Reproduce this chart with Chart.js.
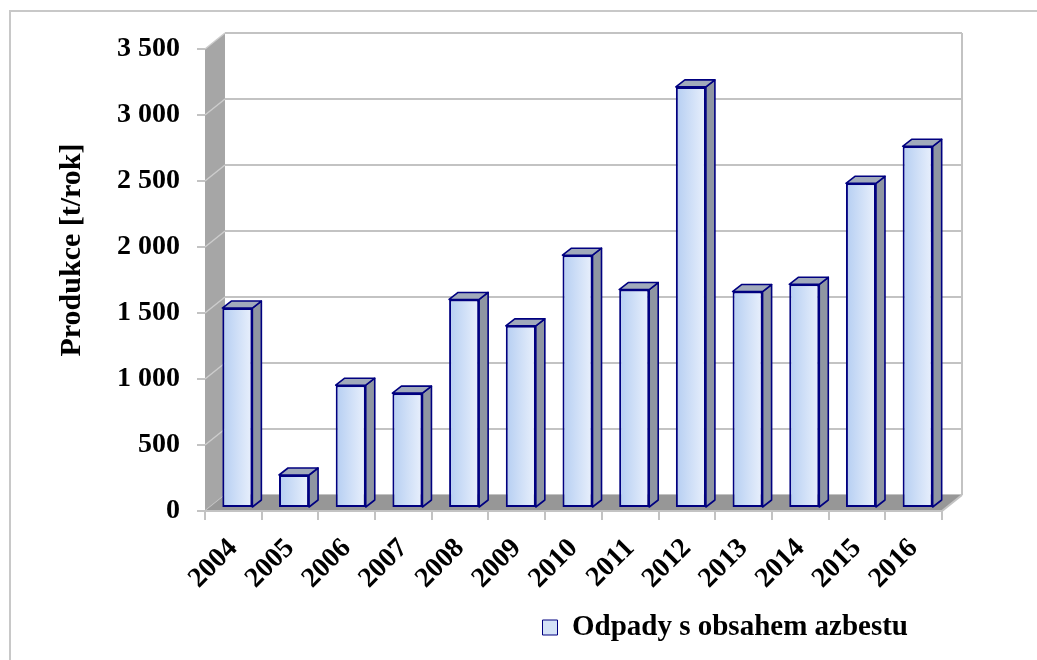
<!DOCTYPE html>
<html>
<head>
<meta charset="utf-8">
<script src="https://cdn.jsdelivr.net/npm/chart.js@4.4.1/dist/chart.umd.min.js"></script>
<style>
  html, body { margin: 0; padding: 0; background: #fff; }
  #wrap { width: 1037px; height: 660px; }
</style>
</head>
<body>
<div id="wrap"><canvas id="chart" width="1037" height="660"></canvas></div>
<script>
// data
const years = ['2004', '2005', '2006', '2007', '2008', '2009', '2010', '2011', '2012', '2013', '2014', '2015', '2016'];
const production = [1515, 250, 930, 870, 1580, 1380, 1915, 1655, 3190, 1640, 1695, 2460, 2740];
const yTicks = [0, 500, 1000, 1500, 2000, 2500, 3000, 3500];
const seriesName = 'Odpady s obsahem azbestu';
const axisTitle = 'Produkce [t/rok]';

const FONT = "'Liberation Serif', 'Times New Roman', serif";
const NAVY = '#000080';
const WALL = { dx: 20, dy: -16 };      // depth of the 3D box
const BAR_SHIFT = { dx: 4, dy: -3 };   // bars sit a little behind the front plane
const BAR_DEPTH = { dx: 9, dy: -7 };
const BAR_FRACTION = 0.53;
const LEGEND_NUDGE = { dx: -16, dy: -8 };

function fmtThousands(v) {
  if (v < 1000) return String(v);
  const rest = String(v % 1000).padStart(3, '0');
  return Math.floor(v / 1000) + ' ' + rest;
}

function poly(ctx, pts, fill, stroke, lw) {
  ctx.beginPath();
  ctx.moveTo(pts[0][0], pts[0][1]);
  for (let i = 1; i < pts.length; i++) ctx.lineTo(pts[i][0], pts[i][1]);
  ctx.closePath();
  if (fill) { ctx.fillStyle = fill; ctx.fill(); }
  if (stroke) { ctx.strokeStyle = stroke; ctx.lineWidth = lw; ctx.lineJoin = 'round'; ctx.stroke(); }
}

const box3d = {
  id: 'box3d',
  afterLayout(chart) {
    // legend sits a bit left and up from where the layout puts it
    const lg = chart.legend;
    if (!lg) return;
    lg.left += LEGEND_NUDGE.dx; lg.right += LEGEND_NUDGE.dx;
    lg.top += LEGEND_NUDGE.dy; lg.bottom += LEGEND_NUDGE.dy;
  },
  beforeDraw(chart) {
    const { ctx, chartArea: a, scales: { y } } = chart;
    ctx.save();
    // outer frame
    ctx.strokeStyle = '#c8c8c8';
    ctx.lineWidth = 2;
    ctx.beginPath();
    ctx.moveTo(10, 660);
    ctx.lineTo(10, 11);
    ctx.lineTo(1037, 11);
    ctx.stroke();

    // back gridlines
    ctx.strokeStyle = '#c3c3c3';
    ctx.lineWidth = 2;
    yTicks.forEach(v => {
      const py = y.getPixelForValue(v) + WALL.dy;
      ctx.beginPath();
      ctx.moveTo(a.left + WALL.dx, py);
      ctx.lineTo(a.right + WALL.dx, py);
      ctx.stroke();
    });
    // right edge of back wall
    ctx.beginPath();
    ctx.moveTo(a.right + WALL.dx, a.top + WALL.dy);
    ctx.lineTo(a.right + WALL.dx, a.bottom + WALL.dy);
    ctx.stroke();

    // left side wall
    poly(ctx, [[a.left, a.top], [a.left + WALL.dx, a.top + WALL.dy],
               [a.left + WALL.dx, a.bottom + WALL.dy], [a.left, a.bottom]], '#a6a6a6');
    ctx.strokeStyle = '#cdcdcd';
    ctx.lineWidth = 1.5;
    yTicks.forEach(v => {
      const py = y.getPixelForValue(v);
      ctx.beginPath();
      ctx.moveTo(a.left, py);
      ctx.lineTo(a.left + WALL.dx, py + WALL.dy);
      ctx.stroke();
    });

    // floor
    poly(ctx, [[a.left, a.bottom], [a.left + WALL.dx, a.bottom + WALL.dy],
               [a.right + WALL.dx, a.bottom + WALL.dy], [a.right, a.bottom]], '#979797');
    ctx.strokeStyle = '#c3c3c3';
    ctx.lineWidth = 2;
    ctx.beginPath();
    ctx.moveTo(a.right, a.bottom);
    ctx.lineTo(a.right + WALL.dx, a.bottom + WALL.dy);
    ctx.stroke();
    ctx.restore();
  },
  beforeDatasetsDraw(chart) {
    chart.ctx.save();
    chart.ctx.translate(BAR_SHIFT.dx, BAR_SHIFT.dy);
  },
  afterDatasetsDraw(chart) {
    const ctx = chart.ctx;
    chart.getDatasetMeta(0).data.forEach(bar => {
      const { x, y, base, width } = bar.getProps(['x', 'y', 'base', 'width'], true);
      const l = x - width / 2, r = x + width / 2;
      const { dx, dy } = BAR_DEPTH;
      poly(ctx, [[r, y], [r + dx, y + dy], [r + dx, base + dy], [r, base]], '#8f96a2', NAVY, 1.6);
      poly(ctx, [[l, y], [l + dx, y + dy], [r + dx, y + dy], [r, y]], '#a1aabb', NAVY, 1.6);
    });
    ctx.restore();
  },
  afterDraw(chart) {
    const ctx = chart.ctx;
    ctx.save();
    ctx.translate(72, 250);
    ctx.rotate(-Math.PI / 2);
    ctx.font = 'bold 30px ' + FONT;
    ctx.fillStyle = '#000';
    ctx.textAlign = 'center';
    ctx.textBaseline = 'middle';
    ctx.fillText(axisTitle, 0, 0);
    ctx.restore();
  }
};

new Chart(document.getElementById('chart'), {
  type: 'bar',
  data: {
    labels: years,
    datasets: [{
      label: seriesName,
      data: production,
      backgroundColor: (c) => {
        const chart = c.chart;
        const a = chart.chartArea;
        if (!a || c.type !== 'data') return '#d4e2f7';
        const cx = chart.scales.x.getPixelForValue(c.dataIndex);
        const half = (a.width / years.length) * BAR_FRACTION / 2;
        const g = chart.ctx.createLinearGradient(cx - half, 0, cx + half, 0);
        g.addColorStop(0, '#b5cef2');
        g.addColorStop(1, '#e9f0fc');
        return g;
      },
      borderColor: NAVY,
      borderWidth: 2,
      borderSkipped: false,
      categoryPercentage: 1,
      barPercentage: BAR_FRACTION
    }]
  },
  options: {
    responsive: false,
    animation: false,
    layout: { padding: { left: 10, right: 95, top: 49, bottom: 0 } },
    plugins: {
      tooltip: { enabled: false },
      legend: {
        position: 'bottom',
        align: 'end',
        labels: {
          color: '#000',
          font: { family: FONT, size: 29, weight: 'bold' },
          boxWidth: 15,
          boxHeight: 15,
          padding: 18,
          generateLabels: () => [{
            text: seriesName, fillStyle: '#d4e2f7', strokeStyle: NAVY,
            lineWidth: 1, hidden: false, datasetIndex: 0
          }]
        }
      }
    },
    scales: {
      x: {
        grid: { offset: true, drawOnChartArea: false, tickLength: 9, color: '#c3c3c3', lineWidth: 2 },
        border: { display: true, color: '#c3c3c3', width: 2 },
        ticks: {
          color: '#000',
          font: { family: FONT, size: 28, weight: 'bold' },
          minRotation: 45, maxRotation: 45,
          padding: 12
        },
        afterFit: (s) => { s.height = 92; }
      },
      y: {
        min: 0,
        max: 3500,
        grid: { drawOnChartArea: false, tickLength: 8, color: '#c3c3c3', lineWidth: 2 },
        border: { display: false },
        ticks: {
          stepSize: 500,
          color: '#000',
          padding: 17,
          font: { family: FONT, size: 28, weight: 'bold' },
          callback: (v) => fmtThousands(v)
        },
        afterFit: (s) => { s.width = 195; }
      }
    }
  },
  plugins: [box3d]
});
</script>
</body>
</html>
